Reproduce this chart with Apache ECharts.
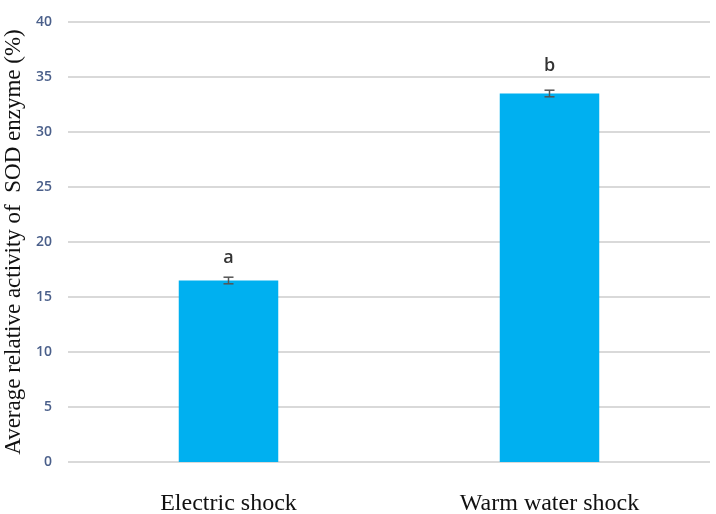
<!DOCTYPE html>
<html><head><meta charset="utf-8">
<script src="https://cdn.jsdelivr.net/npm/echarts@6/dist/echarts.min.js"></script>
<style>html,body{margin:0;padding:0;background:#fff}#c{width:716px;height:514px}</style>
</head><body><div id="c"></div>
<script>
const categories = ['Electric shock', 'Warm water shock'];
const values = [16.5, 33.5];
const errors = [0.3, 0.3];
const letters = ['a', 'b'];
const yTicks = {min: 0, max: 40, interval: 5};
const labelGaps = [14, 19];

const chart = echarts.init(document.getElementById('c'));
chart.setOption({
  animation: false,
  grid: {left: 68, right: 6, top: 22, bottom: 52, containLabel: false, outerBoundsMode: 'none'},
  xAxis: {
    type: 'category', data: categories,
    axisLine: {show: false}, axisTick: {show: false},
    axisLabel: {fontFamily: 'Liberation Serif', fontSize: 24, color: '#111', margin: 30}
  },
  yAxis: {
    type: 'value', min: yTicks.min, max: yTicks.max, interval: yTicks.interval,
    name: 'Average relative activity of  SOD enzyme (%)',
    nameLocation: 'middle', nameGap: 43,
    nameTextStyle: {fontFamily: 'Liberation Serif', fontSize: 23, color: '#111'},
    axisLine: {show: false}, axisTick: {show: false},
    axisLabel: {fontFamily: 'Open Sans', fontSize: 14, fontWeight: 600, color: '#4a5f8a', margin: 16},
    splitLine: {lineStyle: {color: '#d9d9d9', width: 2}}
  },
  series: [
    {
      type: 'bar', barWidth: '31%',
      data: values.map((v, i) => ({value: v, label: {distance: labelGaps[i]}})),
      itemStyle: {color: '#00b0f0'},
      label: {
        show: true, position: 'top',
        formatter: p => letters[p.dataIndex],
        fontFamily: 'Open Sans', fontSize: 18, fontWeight: 600, color: '#333'
      }
    },
    {
      type: 'custom',
      data: values.map((v, i) => [i, v - errors[i], v + errors[i]]),
      renderItem: (params, api) => {
        const lo = api.coord([api.value(0), api.value(1)]);
        const hi = api.coord([api.value(0), api.value(2)]);
        const w = 5;
        const st = {stroke: '#555', lineWidth: 1.5};
        return {type: 'group', children: [
          {type: 'line', shape: {x1: lo[0], y1: lo[1], x2: hi[0], y2: hi[1]}, style: st},
          {type: 'line', shape: {x1: lo[0]-w, y1: lo[1], x2: lo[0]+w, y2: lo[1]}, style: st},
          {type: 'line', shape: {x1: hi[0]-w, y1: hi[1], x2: hi[0]+w, y2: hi[1]}, style: st}
        ]};
      },
      z: 10
    }
  ]
});
</script></body></html>
